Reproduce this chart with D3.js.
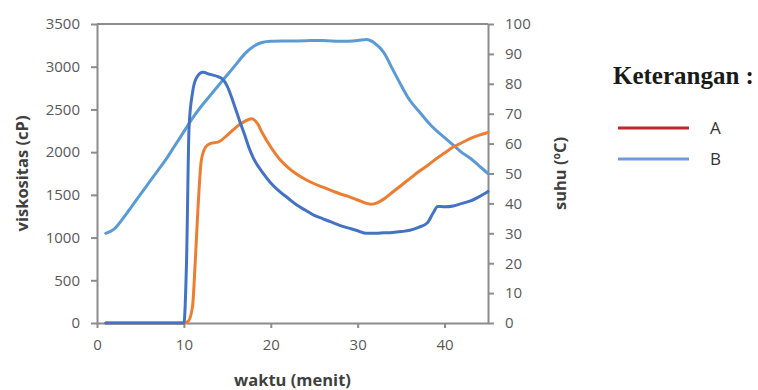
<!DOCTYPE html>
<html>
<head>
  <script src="https://d3js.org/d3.v7.min.js"></script>
  <style>
    body { margin: 0; background: #fff; }
    .tick text { font-family: "Open Sans", sans-serif; font-size: 15px; fill: #595959; }
    .axis path, .axis line { stroke: #8c8c8c; stroke-width: 2; }
    .atitle { font-family: "Open Sans", sans-serif; font-size: 16.5px; font-weight: bold; fill: #3f3f3f; }
    .line { fill: none; stroke-width: 3; stroke-linejoin: round; stroke-linecap: round; }
  </style>
</head>
<body>
<div id="chartArea"></div>
<script>
  var w = 758, h = 390;

  // time (menit) and viskositas (cP), series A (orange)
  var timeA = [1, 10, 10.5, 11, 11.3, 11.6, 12, 12.5, 13, 14, 15, 16, 17, 17.8, 18.5, 19, 20, 21, 22, 23, 24, 25, 26, 27, 28, 29, 30, 31, 31.6, 32.3, 33, 34, 35, 36, 37, 38, 39, 40, 41, 42, 43, 44, 45];
  var viscA = [0, 0, 20, 200, 700, 1300, 1900, 2060, 2100, 2120, 2200, 2290, 2360, 2390, 2330, 2230, 2060, 1920, 1820, 1740, 1680, 1630, 1590, 1550, 1510, 1480, 1440, 1400, 1390, 1410, 1450, 1530, 1610, 1690, 1770, 1840, 1920, 1990, 2060, 2110, 2160, 2200, 2230];

  // series B (dark blue)
  var timeB = [1, 10, 10.3, 10.6, 11, 11.5, 12.2, 13, 14, 14.5, 15, 15.5, 16, 16.5, 17, 17.5, 18, 19, 20, 21, 22, 23, 24, 25, 26, 27, 28, 29, 30, 31, 32, 33, 34, 35, 36, 37, 38, 38.7, 39.2, 40, 41, 42, 43, 44, 45];
  var viscB = [0, 0, 700, 2300, 2700, 2880, 2935, 2910, 2880, 2850, 2770, 2640, 2490, 2340, 2200, 2050, 1930, 1770, 1640, 1540, 1460, 1380, 1320, 1260, 1220, 1180, 1140, 1110, 1080, 1050, 1050, 1055, 1060, 1070, 1085, 1120, 1170, 1290, 1365, 1360, 1370, 1400, 1430, 1480, 1540];

  // suhu (C), light blue
  var timeT = [1, 2, 3, 4, 5, 6, 7, 8, 9, 10, 11, 12, 13, 14, 15, 16, 17, 18, 19, 20, 22, 24, 26, 28, 30, 31, 32, 33, 34, 35, 36, 37, 38, 39, 40, 41, 42, 43, 44, 45];
  var suhu = [30, 31.5, 35, 39, 43, 47, 51, 55, 59.5, 64, 68.5, 72.5, 76, 79.5, 83, 86.5, 90, 92.5, 93.8, 94.2, 94.3, 94.4, 94.5, 94.2, 94.5, 94.8, 93.5, 90.5, 85, 79.5, 74.5, 71, 67.5, 64.5, 62, 59.5, 57, 55, 52.5, 50];

  var xTicks = [0, 10, 20, 30, 40];
  var leftTicks = d3.range(0, 3501, 500);
  var rightTicks = d3.range(0, 101, 10);

  var pLeft = 97, pRight = 488, pTop = 24, pBottom = 323;

  var svg = d3.select("#chartArea").append("svg")
      .attr("width", w).attr("height", h);

  var xScale = d3.scaleLinear().domain([0, 45]).range([pLeft, pRight]);
  var yScale = d3.scaleLinear().domain([0, 3500]).range([pBottom, pTop]);
  var y2Scale = d3.scaleLinear().domain([0, 100]).range([pBottom, pTop]);

  // top border of the plot box
  svg.append("line")
    .attr("x1", pLeft).attr("x2", pRight).attr("y1", pTop).attr("y2", pTop)
    .attr("stroke", "#8c8c8c").attr("stroke-width", 2);

  svg.append("g").attr("class", "axis")
    .attr("transform", "translate(0," + pBottom + ")")
    .call(d3.axisBottom(xScale).tickValues(xTicks).tickSize(5).tickSizeOuter(0).tickPadding(11));
  svg.append("g").attr("class", "axis")
    .attr("transform", "translate(" + pLeft + ",0)")
    .call(d3.axisLeft(yScale).tickValues(leftTicks).tickFormat(d3.format("d")).tickSize(6).tickSizeOuter(0).tickPadding(11));
  svg.append("g").attr("class", "axis")
    .attr("transform", "translate(" + pRight + ",0)")
    .call(d3.axisRight(y2Scale).tickValues(rightTicks).tickFormat(d3.format("d")).tickSize(6).tickSizeOuter(0).tickPadding(11));

  var lineL = d3.line()
      .x(function(d) { return xScale(d[0]); })
      .y(function(d) { return yScale(d[1]); })
      .curve(d3.curveMonotoneX);
  var lineR = d3.line()
      .x(function(d) { return xScale(d[0]); })
      .y(function(d) { return y2Scale(d[1]); })
      .curve(d3.curveMonotoneX);

  svg.append("path").attr("class", "line")
    .datum(d3.zip(timeT, suhu))
    .attr("stroke", "#5b9bd5").attr("d", lineR);
  svg.append("path").attr("class", "line")
    .datum(d3.zip(timeA, viscA))
    .attr("stroke", "#ed7d31").attr("d", lineL);
  svg.append("path").attr("class", "line")
    .datum(d3.zip(timeB, viscB))
    .attr("stroke", "#4472c4").attr("d", lineL);

  // axis titles
  svg.append("text").attr("class", "atitle")
    .attr("transform", "translate(22," + ((pTop + pBottom) / 2) + ") rotate(-90)")
    .attr("text-anchor", "middle").attr("dy", "0.35em")
    .text("viskositas (cP)");
  svg.append("text").attr("class", "atitle")
    .attr("transform", "translate(560," + ((pTop + pBottom) / 2) + ") rotate(-90)")
    .attr("text-anchor", "middle").attr("dy", "0.35em")
    .text("suhu (ºC)");
  svg.append("text").attr("class", "atitle")
    .attr("x", (pLeft + pRight) / 2).attr("y", 380)
    .attr("text-anchor", "middle").attr("dy", "0.35em")
    .text("waktu (menit)");

  // legend
  var legend = [{name: "A", color: "#c0272d", y: 128}, {name: "B", color: "#6e9bd9", y: 159}];
  svg.append("text")
    .attr("x", 613).attr("y", 84)
    .style("font-family", "'Liberation Serif', serif").style("font-size", "25px").style("font-weight", "bold")
    .attr("fill", "#1a1a1a")
    .text("Keterangan :");
  legend.forEach(function(l) {
    svg.append("line").attr("x1", 618).attr("x2", 689).attr("y1", l.y).attr("y2", l.y)
      .attr("stroke", l.color).attr("stroke-width", 3);
    svg.append("text").attr("x", 710).attr("y", l.y).attr("dy", "0.35em")
      .style("font-family", "'Open Sans', sans-serif").style("font-size", "17px")
      .attr("fill", "#333").text(l.name);
  });
</script>
</body>
</html>
